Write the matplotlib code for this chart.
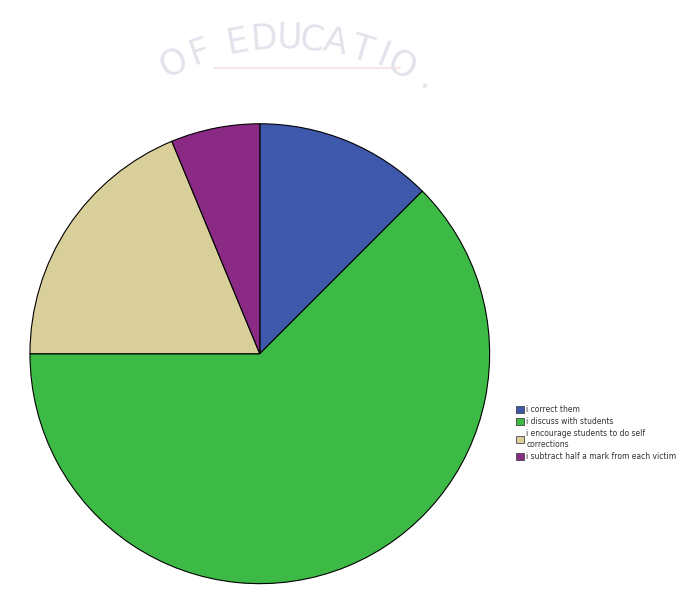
import numpy as np
import matplotlib.pyplot as plt
from matplotlib.patches import Patch

labels = ['i correct them', 'i discuss with students',
          'i encourage students to do self\ncorrections',
          'i subtract half a mark from each victim']
counts = [2, 10, 3, 1]
colors = ['#3E58AC', '#3DBA46', '#D9CF9B', '#8A2A84']

W, H = 681, 598
fig = plt.figure(figsize=(W / 100, H / 100), dpi=100)

# faint arched watermark at the top (pixel geometry, y measured from top)
chars = ['O', 'F', 'E', 'D', 'U', 'C', 'A', 'T', 'I', 'O', '.']
angs = [-25, -19, -10.5, -4.5, 1, 6, 11, 17, 22, 26.5, 33]
cx, cy, r = 285, 300, 262
for ch, a in zip(chars, angs):
    t = np.radians(a)
    px = cx + r * np.sin(t)
    py = cy - r * np.cos(t)
    fig.text(px / W, 1 - py / H, ch, fontsize=25, color='#e3e3eb',
             ha='center', va='center', rotation=-a, family='DejaVu Sans')
fig.add_artist(plt.Line2D([215 / W, 400 / W], [1 - 68 / H, 1 - 68 / H],
                          color='#f8e4e4', lw=1.5))

ax = fig.add_axes([0.044, 0.024, 0.675, 0.769])
ax.pie(counts, colors=colors, startangle=90, counterclock=False,
       wedgeprops=dict(edgecolor='black', linewidth=0.8))
ax.set_aspect('auto')
ax.set_xlim(-1.0, 1.0)
ax.set_ylim(-1.0, 1.0)
ax.axis('off')

handles = [Patch(facecolor=c, edgecolor='#444444', linewidth=0.6) for c in colors]
fig.legend(handles, labels, loc='upper left', bbox_to_anchor=(0.757, 0.323),
           frameon=False, fontsize=5.5, handlelength=1.05, handleheight=1.05,
           handletextpad=0.35, labelspacing=0.42, borderaxespad=0,
           borderpad=0, labelcolor='#333333')

fig.savefig('out.png', dpi=100, facecolor='white')
